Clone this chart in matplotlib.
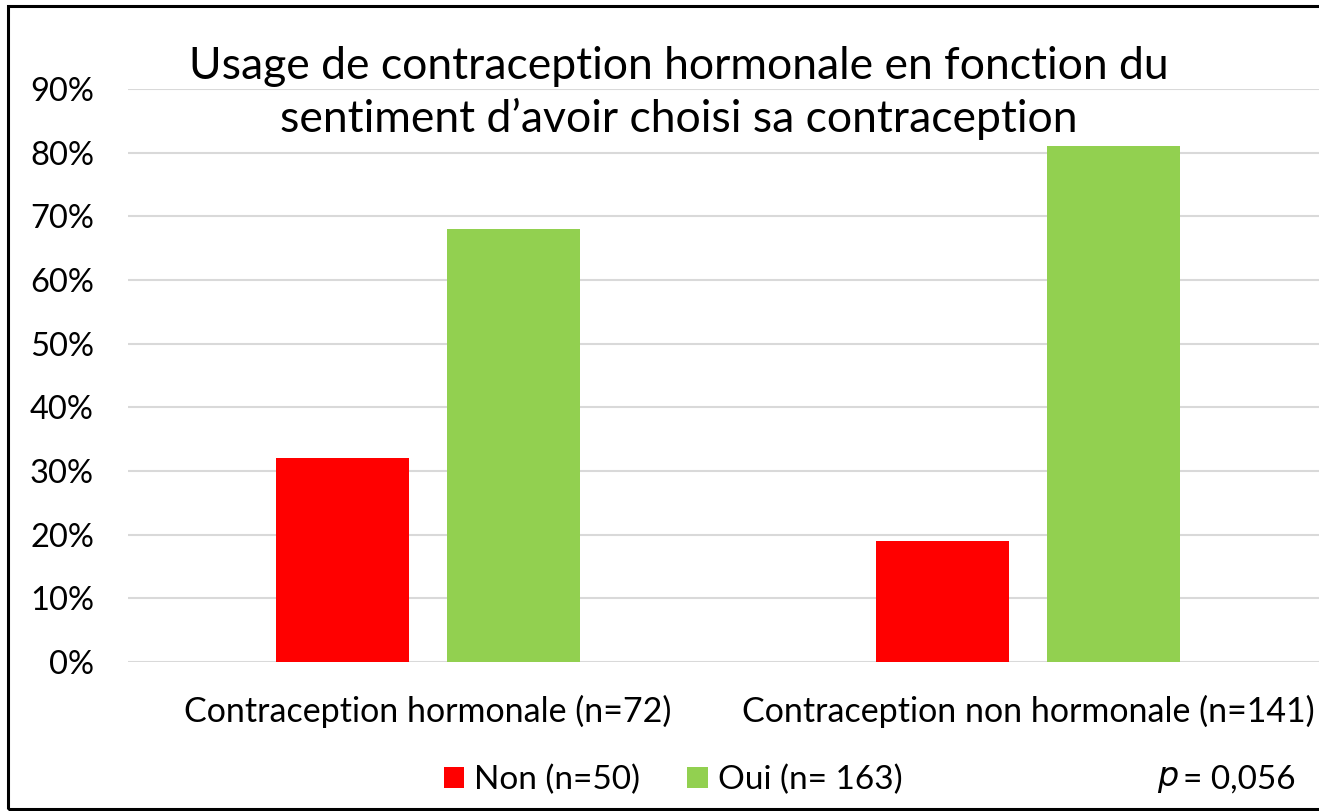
import matplotlib.pyplot as plt
from matplotlib.patches import Rectangle
import numpy as np

plt.rcParams['font.family'] = ['Lato', 'DejaVu Sans']

categories = ['Contraception hormonale (n=72)', 'Contraception non hormonale (n=141)']
non_vals = [32, 19]
oui_vals = [68, 81]
series_labels = ['Non (n=50)', 'Oui (n= 163)']
title = 'Usage de contraception hormonale en fonction du\nsentiment d\u2019avoir choisi sa contraception'
yticks = np.arange(0, 100, 10)

W, H = 1319, 811
fig = plt.figure(figsize=(W / 100, H / 100), dpi=100)

# plot area: x 128..1328, y 662 (0%) .. 89 (90%)
ax = fig.add_axes([128 / W, 1 - 662 / H, 1200 / W, (662 - 89) / H])
x = np.arange(len(categories))
bw = 0.223
off = 0.1425
ax.bar(x - off, non_vals, bw, color='#ff0000', label=series_labels[0], zorder=3)
ax.bar(x + off, oui_vals, bw, color='#92d050', label=series_labels[1], zorder=3)

ax.set_xlim(-0.5, 1.5)
ax.set_ylim(0, 90)
ax.set_yticks(yticks)
ax.set_yticklabels([f'{v}%' for v in yticks], fontsize=23.5)
ax.set_xticks(x)
ax.set_xticklabels(categories, fontsize=24.5)
ax.tick_params(axis='y', length=0, pad=24.5)
ax.tick_params(axis='x', length=0, pad=24)
ax.grid(axis='y', color='#d9d9d9', linewidth=1.5, zorder=0)
for s in ax.spines.values():
    s.set_visible(False)
ax.axhline(0, color='#d9d9d9', linewidth=2, zorder=2)

fig.text(679 / W, 1 - 93 / H, title, ha='center', va='center', fontsize=32,
         linespacing=1.3)

leg = fig.legend(loc='center', bbox_to_anchor=(673 / W, 1 - 780 / H), ncol=2,
                 frameon=False, fontsize=24, handlelength=0.62, handleheight=0.62,
                 handletextpad=0.3, columnspacing=1.4)

fig.text(1157 / W, 1 - 780 / H, r'$p$', ha='left', va='center', fontsize=24,
         style='italic')
fig.text(1183 / W, 1 - 780 / H, '= 0,056', ha='left', va='center', fontsize=24)

# outer frame
fig.add_artist(Rectangle((8 / W, 1 - 809 / H), 1.2, (809 - 6) / H, fill=False,
                         edgecolor='black', linewidth=2.2, transform=fig.transFigure))

fig.savefig('out.png', dpi=100)
